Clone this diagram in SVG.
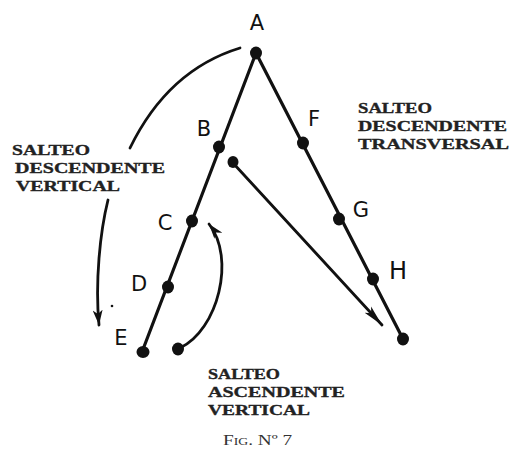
<svg xmlns="http://www.w3.org/2000/svg" width="511" height="453" viewBox="0 0 511 453">
<style>
.ln{stroke:#111;stroke-width:3.2;fill:none;stroke-linecap:round}
.ar{stroke:#111;stroke-width:2.8;fill:none;stroke-linecap:round;stroke-linejoin:round}
.dot{fill:#111}
.lbl{font-family:"DejaVu Sans",sans-serif;font-size:21px;fill:#111;text-anchor:middle}
.cap{font-family:"Liberation Serif",serif;font-weight:bold;font-size:15.5px;fill:#222;stroke:#222;stroke-width:0.35}
.fig{font-family:"Liberation Serif",serif;font-size:14px;fill:#333;font-variant:small-caps}
</style>
<defs>
<marker id="ah" viewBox="0 0 16 10" refX="15" refY="5" markerWidth="16" markerHeight="10" markerUnits="userSpaceOnUse" orient="auto">
<path d="M0,0 L15,5 L0,10 L4,5 Z" fill="#111"/>
</marker>
<marker id="ahf" viewBox="0 0 22 10" refX="21" refY="5" markerWidth="22" markerHeight="10" markerUnits="userSpaceOnUse" orient="auto">
<path d="M0,0.5 L21,5 L0,9.5 L5,5 Z" fill="#111"/>
</marker>
</defs>
<rect width="511" height="453" fill="#fff"/>
<g id="connectors">
<line class="ln" x1="256" y1="53" x2="142" y2="352"/>
<line class="ln" x1="256" y1="53" x2="403" y2="339"/>
<line class="ar" x1="233" y1="163" x2="382" y2="325" marker-end="url(#ahf)"/>
<path class="ar" d="M240,48 Q168,70 130,148"/>
<path class="ar" d="M108,200 C100,232 95,282 99,325" marker-end="url(#ah)"/>
<path class="ar" d="M180,348 C218,330 236,258 209,224" marker-end="url(#ah)"/>
</g>
<g id="A"><ellipse class="dot" cx="256" cy="53" rx="6" ry="6.5"/><text class="lbl" x="257" y="30">A</text></g>
<g id="B"><ellipse class="dot" cx="219" cy="147" rx="6" ry="6.5"/><text class="lbl" x="204" y="136">B</text></g>
<g id="C"><ellipse class="dot" cx="192" cy="221" rx="6" ry="6.5"/><text class="lbl" x="165" y="230">C</text></g>
<g id="D"><ellipse class="dot" cx="168" cy="287" rx="6" ry="6.5"/><text class="lbl" x="139" y="291">D</text></g>
<g id="E"><ellipse class="dot" cx="143" cy="352" rx="6.5" ry="6"/><text class="lbl" x="121" y="345">E</text><circle class="dot" cx="112" cy="306" r="1.3"/></g>
<g id="F"><ellipse class="dot" cx="303" cy="143" rx="6" ry="6.5"/><text class="lbl" x="314" y="126">F</text></g>
<g id="G"><ellipse class="dot" cx="339" cy="219" rx="6" ry="6.5"/><text class="lbl" x="361" y="217">G</text></g>
<g id="H"><ellipse class="dot" cx="373" cy="279" rx="6" ry="6.5"/><text class="lbl" x="398" y="279" style="font-size:24px">H</text></g>
<g id="end"><ellipse class="dot" cx="403" cy="339" rx="6" ry="6.5"/></g>
<g id="start-transversal"><ellipse class="dot" cx="233" cy="162" rx="5.5" ry="6"/></g>
<g id="start-ascendente"><ellipse class="dot" cx="178" cy="349" rx="6" ry="6.5"/></g>
<g id="label-desc-vertical">
<text class="cap" x="12" y="155" textLength="78" lengthAdjust="spacingAndGlyphs">SALTEO</text>
<text class="cap" x="15" y="173" textLength="150" lengthAdjust="spacingAndGlyphs">DESCENDENTE</text>
<text class="cap" x="16" y="191" textLength="104" lengthAdjust="spacingAndGlyphs">VERTICAL</text>
</g>
<g id="label-desc-transversal">
<text class="cap" x="358" y="113" textLength="74" lengthAdjust="spacingAndGlyphs">SALTEO</text>
<text class="cap" x="358" y="131" textLength="149" lengthAdjust="spacingAndGlyphs">DESCENDENTE</text>
<text class="cap" x="358" y="149" textLength="151" lengthAdjust="spacingAndGlyphs">TRANSVERSAL</text>
</g>
<g id="label-asc-vertical">
<text class="cap" x="208" y="379" textLength="72" lengthAdjust="spacingAndGlyphs">SALTEO</text>
<text class="cap" x="208" y="397" textLength="137" lengthAdjust="spacingAndGlyphs">ASCENDENTE</text>
<text class="cap" x="208" y="415" textLength="102" lengthAdjust="spacingAndGlyphs">VERTICAL</text>
</g>
<text class="fig" x="223" y="445" textLength="69" lengthAdjust="spacingAndGlyphs">Fig. Nº 7</text>
</svg>
